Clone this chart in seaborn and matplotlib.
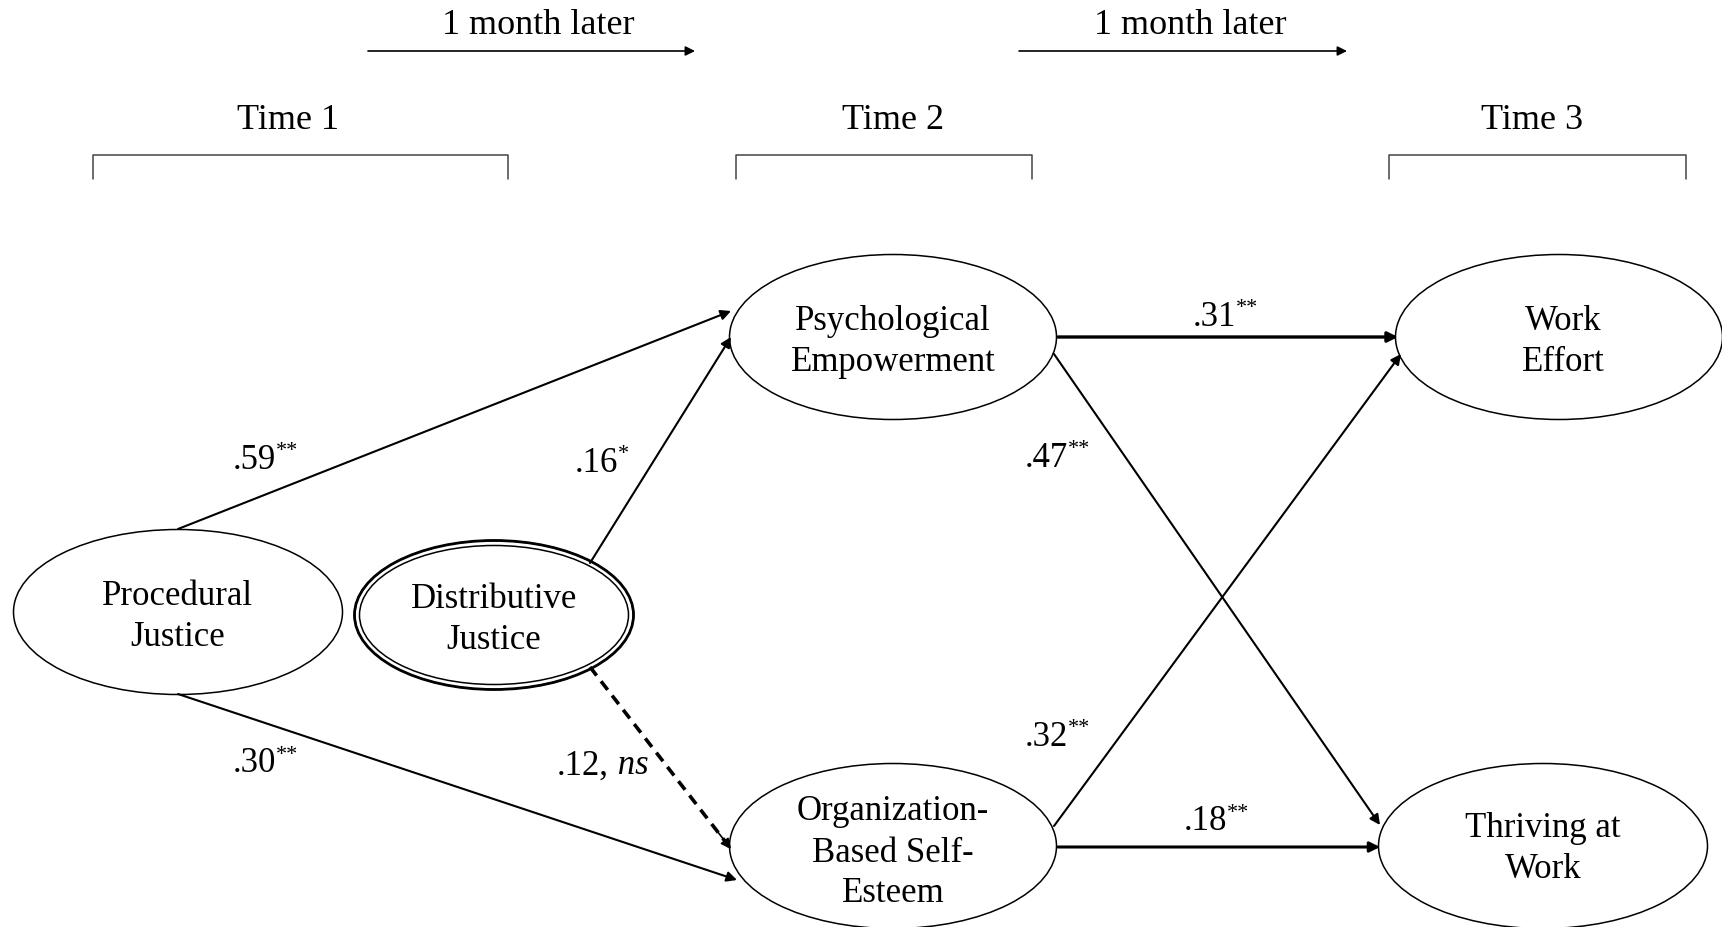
import matplotlib.pyplot as plt
import seaborn as sns
from matplotlib.patches import Ellipse

# ---- data ----
time_labels = ["Time 1", "Time 2", "Time 3"]
gap_labels = ["1 month later", "1 month later"]

node_names = ["PJ", "DJ", "PE", "OBSE", "WE", "TW"]
node_texts = ["Procedural\nJustice", "Distributive\nJustice", "Psychological\nEmpowerment",
              "Organization-\nBased Self-\nEsteem", "Work\nEffort", "Thriving at\nWork"]

edge_from = ["PJ", "PJ", "DJ", "DJ", "PE", "PE", "OBSE", "OBSE"]
edge_to = ["PE", "OBSE", "PE", "OBSE", "WE", "TW", "WE", "TW"]
coef = [".59", ".30", ".16", ".12", ".31", ".47", ".32", ".18"]
stars = ["**", "**", "*", "ns", "**", "**", "**", "**"]

# ---- layout (pixel space of the 1722x927 figure) ----
node_pos = {"PJ": (178, 612), "DJ": (494, 615), "PE": (893, 337),
            "OBSE": (893, 846), "WE": (1559, 337), "TW": (1543, 846)}
node_size = {"PJ": (329, 165), "DJ": (279, 149), "PE": (327, 165),
             "OBSE": (327, 165), "WE": (327, 165), "TW": (329, 165)}
text_off = {"PJ": (0, 5), "DJ": (0, 5), "PE": (0, 5), "OBSE": (0, 7),
            "WE": (4, 5), "TW": (0, 3)}
edge_ends = [((178, 529), (731, 311)), ((178, 694), (737, 880)),
             ((590, 563), (731, 337)), ((590, 667), (731, 849)),
             ((1058, 337), (1398, 337)), ((1054, 354), (1380, 825)),
             ((1054, 826), (1401, 354)), ((1058, 847), (1380, 847))]
edge_lw = [1.5, 1.5, 1.5, 2.6, 2.4, 1.5, 1.5, 2.2]
label_pos = [(276, 460), (276, 764), (618, 463), (609, 766),
             (1236, 317), (1068, 458), (1068, 737), (1227, 822)]
time_x = [288, 893, 1532]
bracket_x = [(93, 508), (736, 1032), (1389, 1686)]
gap_x = [(368, 695), (1019, 1347)]

sns.set_theme(style="white")
plt.rcParams["font.family"] = ["Liberation Serif", "DejaVu Serif"]
plt.rcParams["text.color"] = "black"

fig = plt.figure(figsize=(17.22, 9.27), dpi=100)
ax = fig.add_axes([0, 0, 1, 1])
ax.set_xlim(0, 1722)
ax.set_ylim(927, 0)
ax.axis("off")

fs = 25

# time headers, brackets and "1 month later" arrows
for lab, x, (b0, b1) in zip(time_labels, time_x, bracket_x):
    ax.text(x, 120, lab, ha="center", va="center", fontsize=26)
    ax.plot([b0, b0, b1, b1], [179, 155, 155, 179], color="#444444", lw=1.1)
for lab, (g0, g1) in zip(gap_labels, gap_x):
    ax.text((g0 + g1) / 2 + 7, 25, lab, ha="center", va="center", fontsize=26)
    ax.annotate("", xy=(g1, 51), xytext=(g0, 51),
                arrowprops=dict(arrowstyle="-|>", mutation_scale=14, lw=1.2,
                                color="black", shrinkA=0, shrinkB=0))

# nodes
for name, txt in zip(node_names, node_texts):
    (cx, cy), (w, h) = node_pos[name], node_size[name]
    ax.add_patch(Ellipse((cx, cy), w, h, fill=False, ec="black", lw=1.1, zorder=3))
    if name == "DJ":
        ax.add_patch(Ellipse((cx, cy), w - 10, h - 10, fill=False, ec="black", lw=1.1, zorder=3))
        ax.add_patch(Ellipse((cx, cy), w, h, fill=False, ec="black", lw=2.0, zorder=3))
    dx, dy = text_off[name]
    ax.text(cx + dx, cy + dy, txt, ha="center", va="center", fontsize=fs,
            linespacing=1.32, zorder=4)

# paths
for (p0, p1), lw, s in zip(edge_ends, edge_lw, stars):
    if s == "ns":
        ax.plot([p0[0], p1[0]], [p0[1], p1[1]], color="black", lw=lw,
                linestyle=(0, (3, 2)), zorder=2)
        t = 0.9
        mid = (p0[0] + t * (p1[0] - p0[0]), p0[1] + t * (p1[1] - p0[1]))
        ax.annotate("", xy=p1, xytext=mid,
                    arrowprops=dict(arrowstyle="-|>", mutation_scale=15, lw=1.2,
                                    color="black", shrinkA=0, shrinkB=0))
    else:
        ax.annotate("", xy=p1, xytext=p0,
                    arrowprops=dict(arrowstyle="-|>", mutation_scale=15, lw=lw,
                                    color="black", shrinkA=0, shrinkB=0))

# coefficients
for c, s, (lx, ly) in zip(coef, stars, label_pos):
    if s == "ns":
        t = ax.text(lx, ly, c + ",", ha="right", va="center", fontsize=fs)
        ax.annotate(" ns", xy=(1, 0.5), xycoords=t, ha="left", va="center",
                    fontsize=fs, style="italic")
    else:
        t = ax.text(lx, ly, c, ha="right", va="center", fontsize=fs)
        ax.annotate(s, xy=(1, 1.05), xycoords=t, ha="left", va="top",
                    fontsize=16)

fig.savefig("out.png", dpi=100)
